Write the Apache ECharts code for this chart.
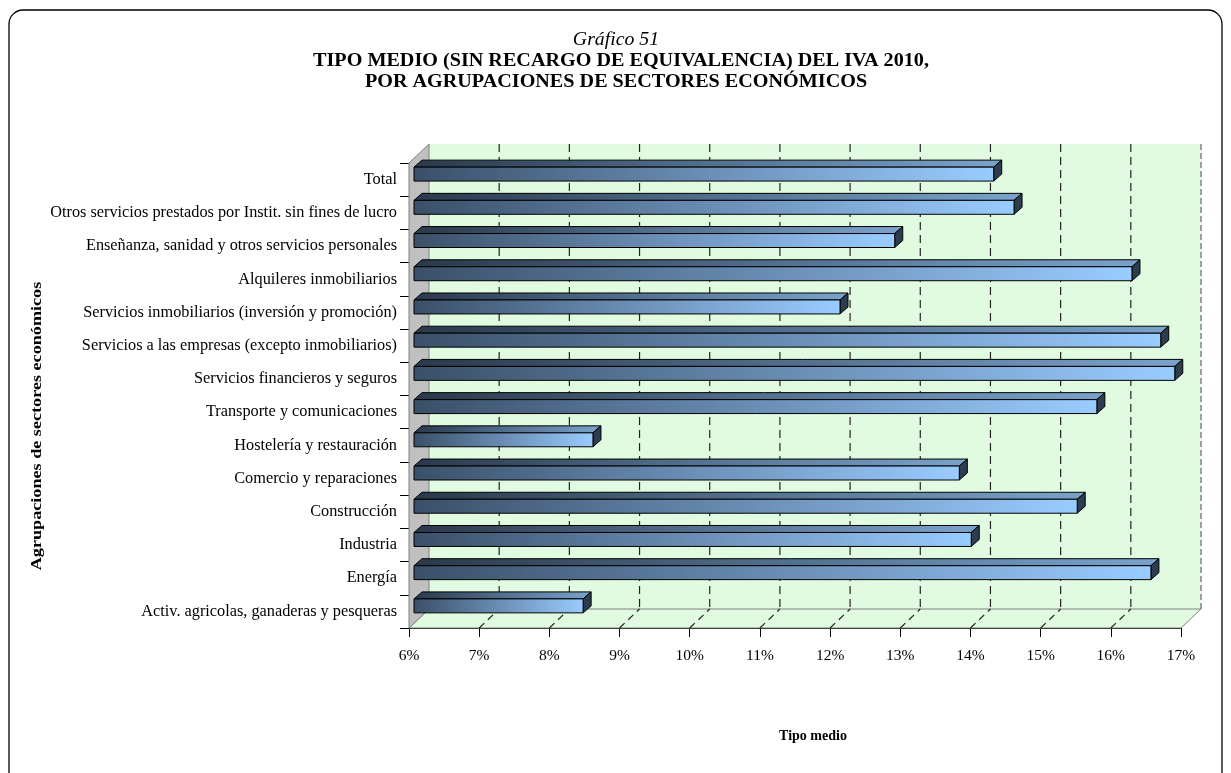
<!DOCTYPE html>
<html>
<head>
<meta charset="utf-8">
<script src="https://cdn.jsdelivr.net/npm/echarts@6/dist/echarts.min.js"></script>
<style>
html,body{margin:0;padding:0;background:#fff;}
#chart{width:1231px;height:773px;}
</style>
</head>
<body>
<div id="chart"></div>
<script>
// ---- Data ----
const categories = [
  "Total",
  "Otros servicios prestados por Instit. sin fines de lucro",
  "Enseñanza, sanidad y otros servicios personales",
  "Alquileres inmobiliarios",
  "Servicios inmobiliarios (inversión y promoción)",
  "Servicios a las empresas (excepto inmobiliarios)",
  "Servicios financieros y seguros",
  "Transporte y comunicaciones",
  "Hostelería y restauración",
  "Comercio y reparaciones",
  "Construcción",
  "Industria",
  "Energía",
  "Activ. agricolas, ganaderas y pesqueras"
];
const tipoMedio = [14.26, 14.55, 12.85, 16.23, 12.07, 16.64, 16.84, 15.73, 8.55, 13.77, 15.45, 13.94, 16.50, 8.41];
const axisMin = 6, axisMax = 17, axisStep = 1;
const tickValues = [6,7,8,9,10,11,12,13,14,15,16,17];
const titleSmall = "Gráfico 51";
const titleLine1 = "TIPO MEDIO (SIN RECARGO DE EQUIVALENCIA) DEL IVA 2010,";
const titleLine2 = "POR AGRUPACIONES DE SECTORES ECONÓMICOS";
const yTitle = "Agrupaciones de sectores económicos";
const xTitle = "Tipo medio";

// ---- Style constants ----
const FONT = "'Liberation Serif','Times New Roman',serif";
const DX = 20, DY = -19;        // wall depth
const BX = 5, BY = -5.5;        // bar plane offset
const BDX = 8, BDY = -7;        // bar depth
const n = categories.length;

const chart = echarts.init(document.getElementById('chart'), null, {renderer: 'canvas'});

function frameRender(params, api) {
  const bandH = api.size([0, 1])[1];
  const top = api.coord([axisMin, 0])[1] - bandH / 2;
  const bottom = api.coord([axisMin, n - 1])[1] + bandH / 2;
  const xL = api.coord([axisMin, 0])[0];
  const xR = api.coord([axisMax, 0])[0];
  const children = [];
  children.push({type: 'rect', shape: {x: xL + DX, y: top + DY, width: xR - xL, height: bottom - top},
    style: {fill: '#e0fbe0', stroke: null}});
  children.push({type: 'polygon', shape: {points: [[xL, bottom], [xR, bottom], [xR + DX, bottom + DY], [xL + DX, bottom + DY]]},
    style: {fill: '#e0fbe0', stroke: '#808080', lineWidth: 1}});
  children.push({type: 'polygon', shape: {points: [[xL, top], [xL + DX, top + DY], [xL + DX, bottom + DY], [xL, bottom]]},
    style: {fill: '#c0c0c0', stroke: '#808080', lineWidth: 1}});
  tickValues.forEach(function (v) {
    if (v === axisMin) return;
    const x = api.coord([v, 0])[0];
    if (v === axisMax) {
      children.push({type: 'line', shape: {x1: x + DX, y1: top + DY, x2: x + DX, y2: bottom + DY},
        style: {stroke: '#808080', lineWidth: 1.5, lineDash: [6, 3]}});
      return;
    }
    children.push({type: 'line', shape: {x1: x + DX, y1: top + DY, x2: x + DX, y2: bottom + DY},
      style: {stroke: '#222', lineWidth: 1.2, lineDash: [8, 5]}});
    children.push({type: 'line', shape: {x1: x, y1: bottom, x2: x + DX, y2: bottom + DY},
      style: {stroke: '#222', lineWidth: 1.2, lineDash: [7, 5]}});
  });
  return {type: 'group', children: children, silent: true};
}

function barRender(params, api) {
  const idx = api.value(1);
  const val = api.value(0);
  const bandH = api.size([0, 1])[1];
  const bh = bandH * 0.42;
  const p0 = api.coord([axisMin, idx]);
  const p1 = api.coord([val, idx]);
  const x0 = p0[0] + BX, x1 = p1[0] + BX;
  const yc = p0[1] + BY;
  const yt = yc - bh / 2, yb = yc + bh / 2;
  const frontGrad = new echarts.graphic.LinearGradient(0, 0, 1, 0, [
    {offset: 0, color: '#3a5068'}, {offset: 0.5, color: '#6a8db5'}, {offset: 1, color: '#99ccff'}]);
  const topGrad = new echarts.graphic.LinearGradient(0, 0, 1, 0, [
    {offset: 0, color: '#2a394b'}, {offset: 0.5, color: '#52708f'}, {offset: 1, color: '#7aa3cc'}]);
  return {
    type: 'group',
    children: [
      {type: 'polygon', shape: {points: [[x0, yt], [x1, yt], [x1 + BDX, yt + BDY], [x0 + BDX, yt + BDY]]},
        style: {fill: topGrad, stroke: '#000', lineWidth: 1}},
      {type: 'polygon', shape: {points: [[x1, yt], [x1 + BDX, yt + BDY], [x1 + BDX, yb + BDY], [x1, yb]]},
        style: {fill: '#2c3d50', stroke: '#000', lineWidth: 1}},
      {type: 'rect', shape: {x: x0, y: yt, width: x1 - x0, height: bh},
        style: {fill: frontGrad, stroke: '#000', lineWidth: 1}}
    ]
  };
}

const option = {
  animation: false,
  backgroundColor: '#ffffff',
  grid: {left: 409, right: 50, top: 163, bottom: 145, containLabel: false},
  xAxis: {
    type: 'value', min: axisMin, max: axisMax, interval: axisStep,
    axisLine: {show: true, lineStyle: {color: '#000', width: 1}},
    axisTick: {show: true, length: 9, lineStyle: {color: '#000'}},
    axisLabel: {formatter: '{value}%', color: '#000', fontFamily: FONT, fontSize: 15.5, margin: 20},
    splitLine: {show: false}
  },
  yAxis: {
    type: 'category', inverse: true, data: categories,
    axisLine: {show: true, lineStyle: {color: '#000', width: 1}},
    axisTick: {show: true, length: 9, lineStyle: {color: '#000'}},
    axisLabel: {color: '#000', fontFamily: FONT, fontSize: 16.3, margin: 12},
    splitLine: {show: false}
  },
  graphic: [
    {type: 'rect', shape: {x: 9, y: 10, width: 1213, height: 800, r: 14},
      style: {fill: null, stroke: '#000', lineWidth: 1.3}, z: 100, silent: true},
    {type: 'text', x: 616, y: 40, scaleX: 1.1, style: {text: titleSmall, fontFamily: FONT, fontSize: 18, fontStyle: 'italic',
      fill: '#000', align: 'center', verticalAlign: 'middle'}},
    {type: 'text', x: 621, y: 61, scaleX: 1.12, style: {text: titleLine1, fontFamily: FONT, fontSize: 18, fontWeight: 'bold',
      fill: '#000', align: 'center', verticalAlign: 'middle'}},
    {type: 'text', x: 616, y: 82, scaleX: 1.12, style: {text: titleLine2, fontFamily: FONT, fontSize: 18, fontWeight: 'bold',
      fill: '#000', align: 'center', verticalAlign: 'middle'}},
    {type: 'text', x: 37, y: 426, rotation: Math.PI / 2, scaleX: 1.21, style: {text: yTitle, fontFamily: FONT, fontSize: 15,
      fontWeight: 'bold', fill: '#000', align: 'center', verticalAlign: 'middle'}},
    {type: 'text', x: 813, y: 736, style: {text: xTitle, fontFamily: FONT, fontSize: 14, fontWeight: 'bold',
      fill: '#000', align: 'center', verticalAlign: 'middle'}}
  ],
  series: [
    {type: 'custom', name: 'frame', renderItem: frameRender, data: [[axisMin, 0]], z: 1, silent: true, clip: false},
    {type: 'custom', name: 'Tipo medio', renderItem: barRender, z: 3, clip: false,
      data: tipoMedio.map(function (v, i) { return [v, i]; })}
  ]
};
chart.setOption(option);
</script>
</body>
</html>
